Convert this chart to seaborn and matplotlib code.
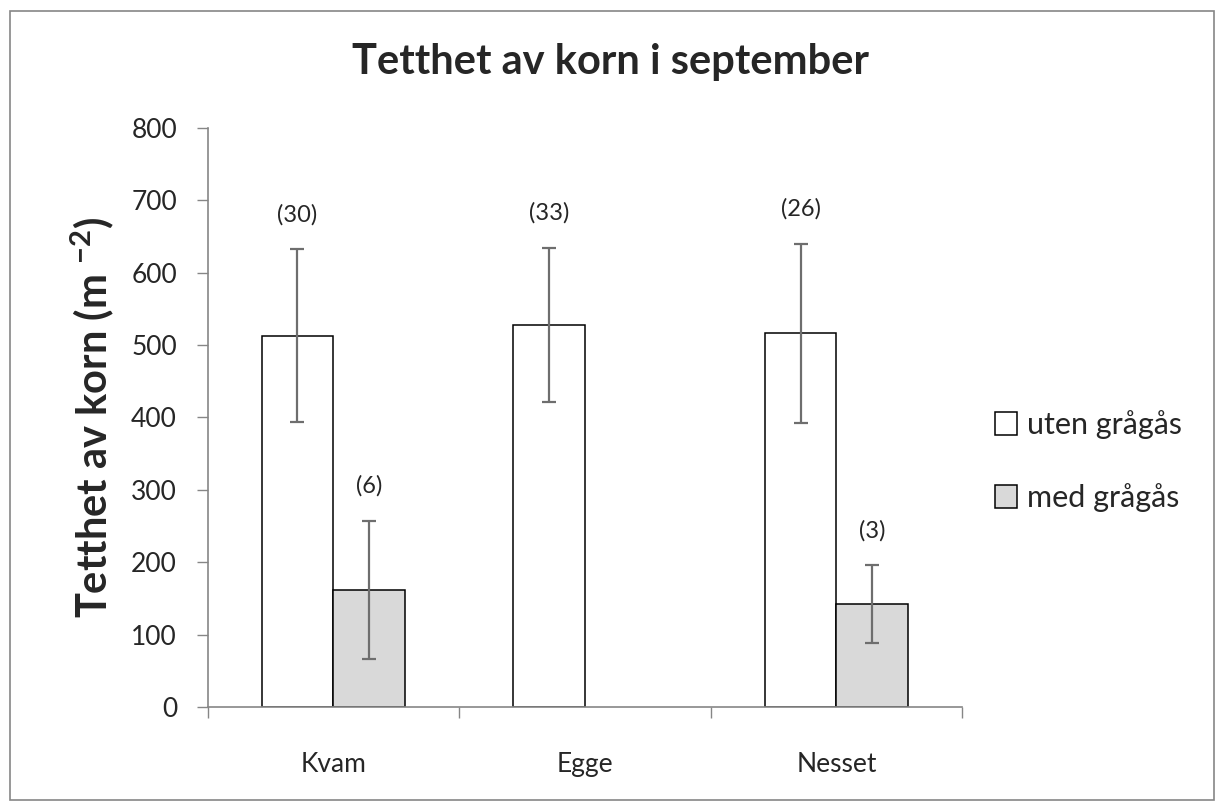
import pandas as pd
import numpy as np
import seaborn as sns
import matplotlib.pyplot as plt
from matplotlib.patches import Rectangle

sites = ['Kvam', 'Egge', 'Nesset']
groups = ['uten grågås', 'med grågås']
uten_mean = [513, 528, 516]
uten_err = [119, 106, 124]
med_mean = [162, np.nan, 142]
med_err = [95, np.nan, 54]
uten_n = ['(30)', '(33)', '(26)']
med_n = ['(6)', '', '(3)']

df = pd.DataFrame({
    'site': sites * 2,
    'group': [groups[0]] * 3 + [groups[1]] * 3,
    'mean': uten_mean + med_mean,
    'err': uten_err + med_err,
    'n': uten_n + med_n,
})

sns.set_style('white')
plt.rcParams['font.family'] = ['Lato', 'DejaVu Sans']
plt.rcParams['mathtext.fontset'] = 'custom'
plt.rcParams['mathtext.rm'] = 'Lato'
plt.rcParams['mathtext.bf'] = 'Lato:bold'

fig = plt.figure(figsize=(12.21, 8.09), dpi=100)
ax = fig.add_axes([0.170, 0.126, 0.618, 0.716])

sns.barplot(data=df, x='site', y='mean', hue='group', order=sites, hue_order=groups,
            palette=['white', '#d9d9d9'], edgecolor='black', linewidth=1.1,
            width=0.57, errorbar=None, ax=ax)

# error bars and sample sizes at the bar centres
for container, g in zip(ax.containers, groups):
    sub = df[df['group'] == g].set_index('site')
    for bar in container:
        cx = bar.get_x() + bar.get_width() / 2
        site = sites[int(round(cx))]
        m, e, n = sub.loc[site, 'mean'], sub.loc[site, 'err'], sub.loc[site, 'n']
        if np.isnan(m):
            continue
        ax.errorbar(cx, m, yerr=e, fmt='none', ecolor='#6e6e6e', elinewidth=1.6,
                    capsize=5, capthick=1.6, zorder=5)
        ax.annotate(n, (cx, m + e), xytext=(0, 25), textcoords='offset points',
                    ha='center', va='center', fontsize=17, color='#262626')

ax.set_ylim(0, 800)
ax.set_yticks(range(0, 801, 100))
ax.set_xlim(-0.5, 2.5)
ax.set_xticks(range(3))
ax.set_xticks([-0.5, 0.5, 1.5, 2.5], minor=True)
ax.tick_params(axis='x', which='major', length=0, pad=32, labelsize=19, labelcolor='#262626')
ax.tick_params(axis='x', which='minor', length=8, width=1, color='#868686', direction='out')
ax.tick_params(axis='y', length=8, width=1, color='#868686', direction='out', pad=14,
               labelsize=19, labelcolor='#262626', left=True)
ax.tick_params(axis='x', bottom=True, which='both')

for s in ['top', 'right']:
    ax.spines[s].set_visible(False)
for s in ['left', 'bottom']:
    ax.spines[s].set_color('#868686')
    ax.spines[s].set_linewidth(1.2)

ax.set_xlabel('')
ax.set_ylabel(r'Tetthet av korn (m $^{\mathbf{-2}}$)', fontsize=30, fontweight='bold', labelpad=10)

handles, labels = ax.get_legend_handles_labels()
ax.legend(handles, labels, loc='center left', bbox_to_anchor=(0.792, 0.43),
          bbox_transform=fig.transFigure, frameon=False, fontsize=22,
          handlelength=0.75, handleheight=0.75, handletextpad=0.3, labelspacing=1.45)

fig.text(0.5, 0.923, 'Tetthet av korn i september', ha='center', va='center',
         fontsize=30, fontweight='bold')

fig.patches.append(Rectangle((0.008, 0.011), 0.986, 0.975, transform=fig.transFigure,
                             fill=False, edgecolor='#868686', linewidth=1.2))

fig.savefig('out.png', dpi=100)
